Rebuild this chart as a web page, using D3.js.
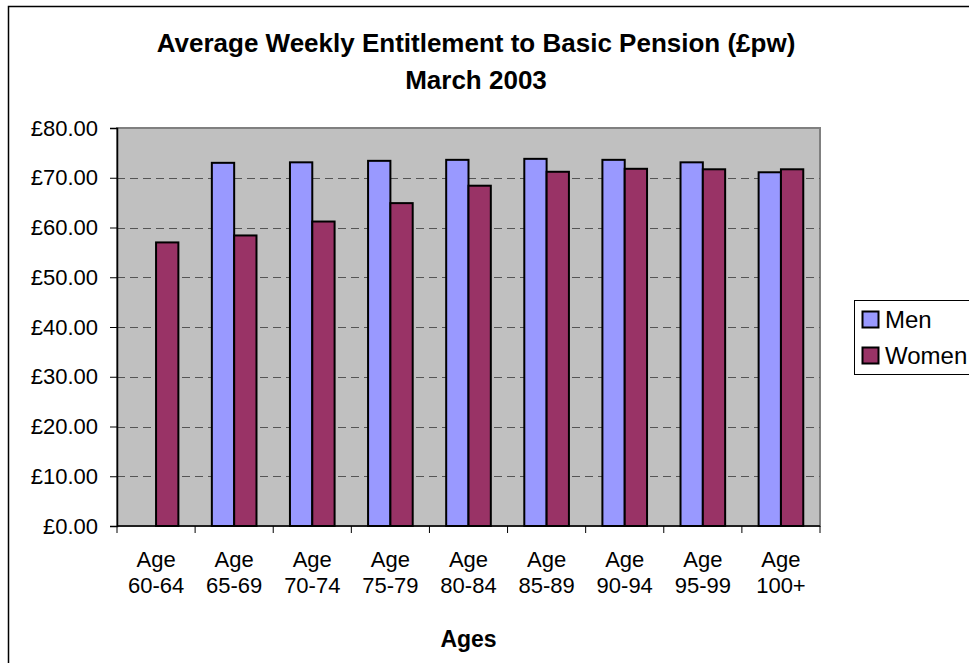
<!DOCTYPE html>
<html lang="en">
<head>
<meta charset="UTF-8">
<title>Basic Pension</title>
<script src="https://d3js.org/d3.v7.min.js"></script>
<style>
  body { margin: 0; background: #fff; overflow: hidden; }
  text { font-family: Arial, "Liberation Sans", sans-serif; fill: #000; }
</style>
</head>
<body>
<div id="chart"></div>
<script>
// data
var ages = ["Age 60-64", "Age 65-69", "Age 70-74", "Age 75-79", "Age 80-84",
            "Age 85-89", "Age 90-94", "Age 95-99", "Age 100+"];
var men   = [null, 73.0, 73.1, 73.4, 73.6, 73.8, 73.6, 73.1, 71.1];
var women = [57.0, 58.4, 61.2, 64.9, 68.4, 71.2, 71.8, 71.7, 71.7];
var seriesNames = ["Men", "Women"];
var colors = ["#9999FF", "#993366"];
var yTicks = [0, 10, 20, 30, 40, 50, 60, 70, 80];

var W = 969, H = 663;
var plotL = 117, plotR = 820, plotT = 128, plotB = 526;

var svg = d3.select("#chart").append("svg")
    .attr("width", W)
    .attr("height", H)
    .style("display", "block");

// outer chart frame (runs past right and bottom edge)
svg.append("rect")
    .attr("x", 8.5).attr("y", 6.5)
    .attr("width", W + 20).attr("height", H + 20)
    .attr("fill", "#fff").attr("stroke", "#000").attr("stroke-width", 1.5);

var x = d3.scaleBand().domain(ages).range([plotL, plotR]);
var y = d3.scaleLinear().domain([0, 80]).range([plotB, plotT]);
var barW = x.bandwidth() / 3.5;

// plot area
svg.append("rect")
    .attr("x", plotL).attr("y", plotT)
    .attr("width", plotR - plotL).attr("height", plotB - plotT)
    .attr("fill", "#C0C0C0").attr("stroke", "#808080").attr("stroke-width", 2);

// dashed gridlines
svg.append("g").selectAll("line")
    .data(yTicks.filter(function(d) { return d > 0 && d < 80; }))
    .enter().append("line")
    .attr("x1", plotL).attr("x2", plotR)
    .attr("y1", function(d) { return Math.round(y(d)) + 0.5; })
    .attr("y2", function(d) { return Math.round(y(d)) + 0.5; })
    .attr("stroke", "#555").attr("stroke-width", 1)
    .attr("stroke-dasharray", "8,5");

// bars
var rows = ages.map(function(a, i) { return {age: a, vals: [men[i], women[i]]}; });
var groups = svg.append("g").selectAll("g")
    .data(rows).enter().append("g")
    .attr("transform", function(d) { return "translate(" + (x(d.age) + (x.bandwidth() - 2 * barW) / 2) + ",0)"; });

groups.selectAll("rect")
    .data(function(d) { return d.vals.map(function(v, k) { return {v: v, k: k}; }).filter(function(e) { return e.v != null; }); })
    .enter().append("rect")
    .attr("x", function(d) { return d.k * barW; })
    .attr("y", function(d) { return y(d.v); })
    .attr("width", barW)
    .attr("height", function(d) { return plotB - y(d.v); })
    .attr("fill", function(d) { return colors[d.k]; })
    .attr("stroke", "#000").attr("stroke-width", 2);

// y axis
var yAxis = d3.axisLeft(y)
    .tickValues(yTicks)
    .tickSize(7)
    .tickPadding(12)
    .tickFormat(function(d) { return "£" + d3.format(".2f")(d); });
var gy = svg.append("g").attr("transform", "translate(" + plotL + ",0)").call(yAxis);
gy.select(".domain").attr("stroke", "#000").attr("stroke-width", 1.5);
gy.selectAll(".tick line").attr("stroke", "#000");
gy.selectAll("text").attr("font-size", 22).attr("font-family", "Arial, 'Liberation Sans', sans-serif").attr("fill", "#000");

// x axis
var gx = svg.append("g").attr("transform", "translate(0," + plotB + ")");
gx.append("line").attr("x1", plotL).attr("x2", plotR).attr("y1", 0).attr("y2", 0).attr("stroke", "#000").attr("stroke-width", 1.5);
gx.selectAll("line.tk")
    .data(ages.map(function(a) { return x(a); }).concat([plotR]))
    .enter().append("line")
    .attr("class", "tk")
    .attr("x1", function(d) { return d; }).attr("x2", function(d) { return d; })
    .attr("y1", 0).attr("y2", 7).attr("stroke", "#000");
var lbl = gx.selectAll("text.cat")
    .data(ages).enter().append("text")
    .attr("class", "cat")
    .attr("text-anchor", "middle")
    .attr("font-size", 22);
lbl.append("tspan").attr("x", function(d) { return x(d) + x.bandwidth() / 2; }).attr("y", 41)
    .text("Age");
lbl.append("tspan").attr("x", function(d) { return x(d) + x.bandwidth() / 2; }).attr("y", 67)
    .text(function(d) { return d.replace("Age ", ""); });

// axis title
svg.append("text")
    .attr("x", (plotL + plotR) / 2).attr("y", 647)
    .attr("text-anchor", "middle")
    .attr("font-size", 23).attr("font-weight", "bold")
    .text("Ages");

// chart title
svg.append("text")
    .attr("x", 476).attr("y", 52)
    .attr("text-anchor", "middle")
    .attr("font-size", 26).attr("font-weight", "bold")
    .text("Average Weekly Entitlement to Basic Pension (£pw)");
svg.append("text")
    .attr("x", 476).attr("y", 89)
    .attr("text-anchor", "middle")
    .attr("font-size", 26).attr("font-weight", "bold")
    .text("March 2003");

// legend
var lg = svg.append("g").attr("transform", "translate(854,300)");
lg.append("rect").attr("x", 0.5).attr("y", 0.5).attr("width", 140).attr("height", 74)
    .attr("fill", "#fff").attr("stroke", "#000");
var items = lg.selectAll("g.item").data(seriesNames).enter().append("g")
    .attr("class", "item")
    .attr("transform", function(d, i) { return "translate(8," + (11 + i * 36) + ")"; });
items.append("rect").attr("x", 0.5).attr("y", 0.5).attr("width", 16).attr("height", 16)
    .attr("fill", function(d, i) { return colors[i]; })
    .attr("stroke", "#000").attr("stroke-width", 2);
items.append("text").attr("x", 23).attr("y", 17).attr("font-size", 24)
    .text(function(d) { return d; });
</script>
</body>
</html>
